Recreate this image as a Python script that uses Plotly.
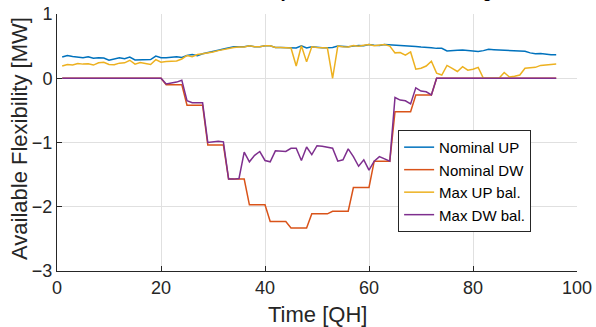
import plotly.graph_objects as go

qh = list(range(1, 97))

nominal_up = [0.33, 0.355, 0.34, 0.335, 0.32, 0.335, 0.31, 0.32, 0.315, 0.28,
              0.305, 0.32, 0.305, 0.33, 0.285, 0.29, 0.285, 0.29, 0.345, 0.32,
              0.32, 0.33, 0.335, 0.325, 0.355, 0.37, 0.35, 0.38, 0.395, 0.42,
              0.435, 0.455, 0.47, 0.49, 0.49, 0.49, 0.505, 0.49, 0.49, 0.505,
              0.505, 0.48, 0.48, 0.48, 0.47, 0.47, 0.505, 0.47, 0.49, 0.48,
              0.475, 0.475, 0.48, 0.50, 0.49, 0.49, 0.50, 0.51, 0.505, 0.525,
              0.515, 0.51, 0.525, 0.52, 0.515, 0.515, 0.515, 0.505, 0.495, 0.485,
              0.485, 0.475, 0.465, 0.465, 0.425, 0.435, 0.435, 0.44, 0.435, 0.425,
              0.415, 0.43, 0.45, 0.445, 0.44, 0.44, 0.435, 0.43, 0.43, 0.42,
              0.395, 0.38, 0.385, 0.37, 0.365, 0.365]

nominal_dw = ([0.0] * 20 + [-0.10] * 4 + [-0.42] * 4 + [-1.04] * 4 + [-1.57] * 4 +
              [-1.97] * 4 + [-2.23] * 4 + [-2.33] * 4 + [-2.11] * 4 + [-2.07] * 4 +
              [-1.70] * 4 + [-1.29] * 4 + [-0.52] * 4 + [-0.26] * 4 + [0.0] * 24)

max_up_bal = [0.19, 0.215, 0.205, 0.23, 0.22, 0.225, 0.205, 0.24, 0.25, 0.215,
              0.21, 0.235, 0.24, 0.28, 0.22, 0.245, 0.23, 0.215, 0.29, 0.25,
              0.26, 0.26, 0.27, 0.30, 0.355, 0.335, 0.37, 0.38, 0.39, 0.41,
              0.43, 0.445, 0.47, 0.48, 0.485, 0.485, 0.505, 0.49, 0.49, 0.505,
              0.505, 0.48, 0.48, 0.475, 0.47, 0.19, 0.505, 0.255, 0.49, 0.48,
              0.475, 0.47, 0.0, 0.50, 0.49, 0.485, 0.51, 0.50, 0.515, 0.525,
              0.505, 0.515, 0.525, 0.50, 0.395, 0.40, 0.36, 0.41, 0.14, 0.155,
              0.19, 0.265, 0.08, 0.05, 0.20, 0.155, 0.105, 0.18, 0.125, 0.14,
              0.17, 0.0, 0.0, 0.0, 0.0, 0.09, 0.02, 0.03, 0.05, 0.155,
              0.16, 0.17, 0.20, 0.21, 0.21, 0.22]

max_dw_bal = ([0.0] * 20 +
              [-0.09, -0.08, -0.06, -0.03, -0.35, -0.38, -0.38, -0.38,
               -1.00, -0.99, -0.98, -0.99, -1.57, -1.57, -1.56, -1.15,
               -1.30, -1.20, -1.14, -1.28, -1.30, -1.13, -1.14, -1.14,
               -1.09, -1.09, -1.28, -1.07, -1.19, -1.05, -1.06, -1.08,
               -1.09, -1.29, -1.27, -1.10, -1.22, -1.37, -1.27, -1.43,
               -1.29, -1.22, -1.26, -1.29, -0.30, -0.34, -0.35, -0.40,
               -0.15, -0.20, -0.21, -0.26] + [0.0] * 24)

series_names = ["Nominal UP", "Nominal DW", "Max UP bal.", "Max DW bal."]
series_values = [nominal_up, nominal_dw, max_up_bal, max_dw_bal]
colors = ["#0072BD", "#D95319", "#EDB120", "#7E2F8E"]

x_ticks = [0, 20, 40, 60, 80, 100]
y_ticks = [-3, -2, -1, 0, 1]

title_text = "Available flexibility before and after balancing"
x_label = "Time [QH]"
y_label = "Available Flexibility [MW]"

FONT = "Liberation Sans, Arial, Helvetica, sans-serif"
AX = "#262626"

fig = go.Figure()
for name, vals, col in zip(series_names, series_values, colors):
    fig.add_trace(go.Scatter(x=qh, y=vals, mode="lines", name=name,
                             line=dict(color=col, width=1.5)))

axis_common = dict(ticks="inside", ticklen=5, tickcolor=AX, tickwidth=1,
                   showline=True, linecolor=AX, linewidth=1,
                   showgrid=True, gridcolor="#e0e0e0", gridwidth=1,
                   zeroline=False, automargin=False,
                   tickfont=dict(size=18, color=AX, family=FONT))

fig.update_layout(
    template="none",
    width=596, height=327,
    margin=dict(l=57, r=19, t=14, b=56, pad=0),
    paper_bgcolor="white", plot_bgcolor="white",
    font=dict(family=FONT, color=AX, size=18),
    showlegend=True,
    legend=dict(x=0.656, y=0.549, xanchor="left", yanchor="top",
                bgcolor="white", bordercolor=AX, borderwidth=1,
                font=dict(size=15, color="black", family=FONT),
                itemwidth=30, tracegroupgap=0),
    xaxis=dict(range=[0, 100], tickvals=x_ticks, **axis_common),
    yaxis=dict(range=[-3, 1], tickvals=y_ticks, **axis_common),
    annotations=[
        dict(text=x_label, xref="paper", yref="paper", x=0.5, y=-0.171,
             xanchor="center", yanchor="middle", showarrow=False,
             font=dict(size=22, color=AX, family=FONT)),
        dict(text=y_label, xref="paper", yref="paper", x=-0.071, y=0.514,
             xanchor="center", yanchor="middle", textangle=-90, showarrow=False,
             font=dict(size=22, color=AX, family=FONT)),
        dict(text=title_text, xref="paper", yref="paper", x=0.51, y=1.039,
             xanchor="center", yanchor="bottom", showarrow=False,
             font=dict(size=17, color="black", family=FONT)),
    ],
)

fig.write_html("out.html",
               config={"displayModeBar": False},
               post_script="document.body.style.margin='0';"
                           "document.body.style.overflow='hidden';")
